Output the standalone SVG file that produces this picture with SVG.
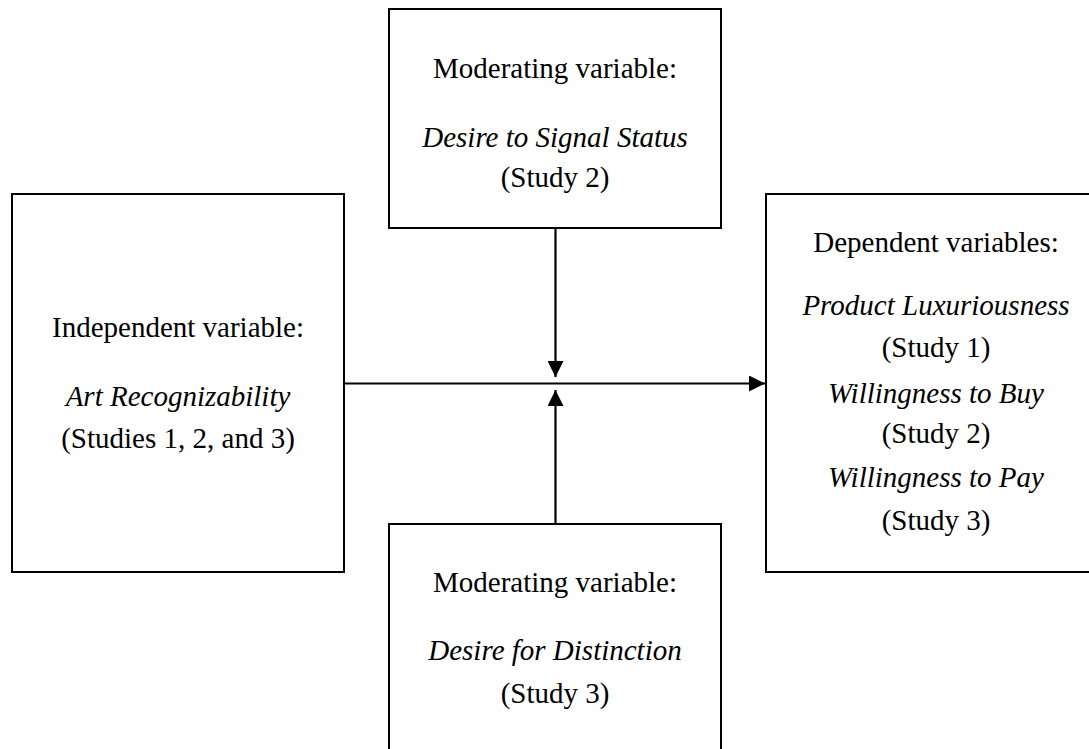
<svg xmlns="http://www.w3.org/2000/svg" width="1089" height="749" viewBox="0 0 1089 749">
<style>
.box{fill:#fff;stroke:#000;stroke-width:2}
text{font-size:29px;fill:#000;text-anchor:middle}
.i{font-style:italic}
.c{stroke:#000;stroke-width:2.2;fill:none}
</style>
<defs>
<marker id="ah" viewBox="0 0 16 16" refX="16" refY="8" markerWidth="16" markerHeight="16" markerUnits="userSpaceOnUse" orient="auto">
<path d="M0,0 L16,8 L0,16 Z" fill="#000"/>
</marker>
</defs>
<rect width="1089" height="749" fill="#fff"/>
<g font-family="Liberation Serif, Tinos, DejaVu Serif, serif">
<g id="iv">
<rect class="box" x="12" y="194" width="332" height="378"/>
<text x="178" y="337">Independent variable:</text>
<text class="i" x="178" y="406">Art Recognizability</text>
<text x="178" y="448">(Studies 1, 2, and 3)</text>
</g>
<g id="mod1">
<rect class="box" x="389" y="9" width="332" height="219"/>
<text x="555" y="78">Moderating variable:</text>
<text class="i" x="555" y="147">Desire to Signal Status</text>
<text x="555" y="187">(Study 2)</text>
</g>
<g id="mod2">
<rect class="box" x="389" y="524" width="332" height="240"/>
<text x="555" y="592">Moderating variable:</text>
<text class="i" x="555" y="660">Desire for Distinction</text>
<text x="555" y="703">(Study 3)</text>
</g>
<g id="dv">
<rect class="box" x="766" y="194" width="340" height="378"/>
<text x="936" y="252">Dependent variables:</text>
<text class="i" x="936" y="315">Product Luxuriousness</text>
<text x="936" y="357">(Study 1)</text>
<text class="i" x="936" y="403">Willingness to Buy</text>
<text x="936" y="443">(Study 2)</text>
<text class="i" x="936" y="487">Willingness to Pay</text>
<text x="936" y="530">(Study 3)</text>
</g>
</g>
<g id="connectors">
<line class="c" x1="344" y1="383.5" x2="765" y2="383.5" marker-end="url(#ah)"/>
<line class="c" x1="555.5" y1="228" x2="555.5" y2="377" marker-end="url(#ah)"/>
<line class="c" x1="555.5" y1="524" x2="555.5" y2="390" marker-end="url(#ah)"/>
</g>
</svg>
